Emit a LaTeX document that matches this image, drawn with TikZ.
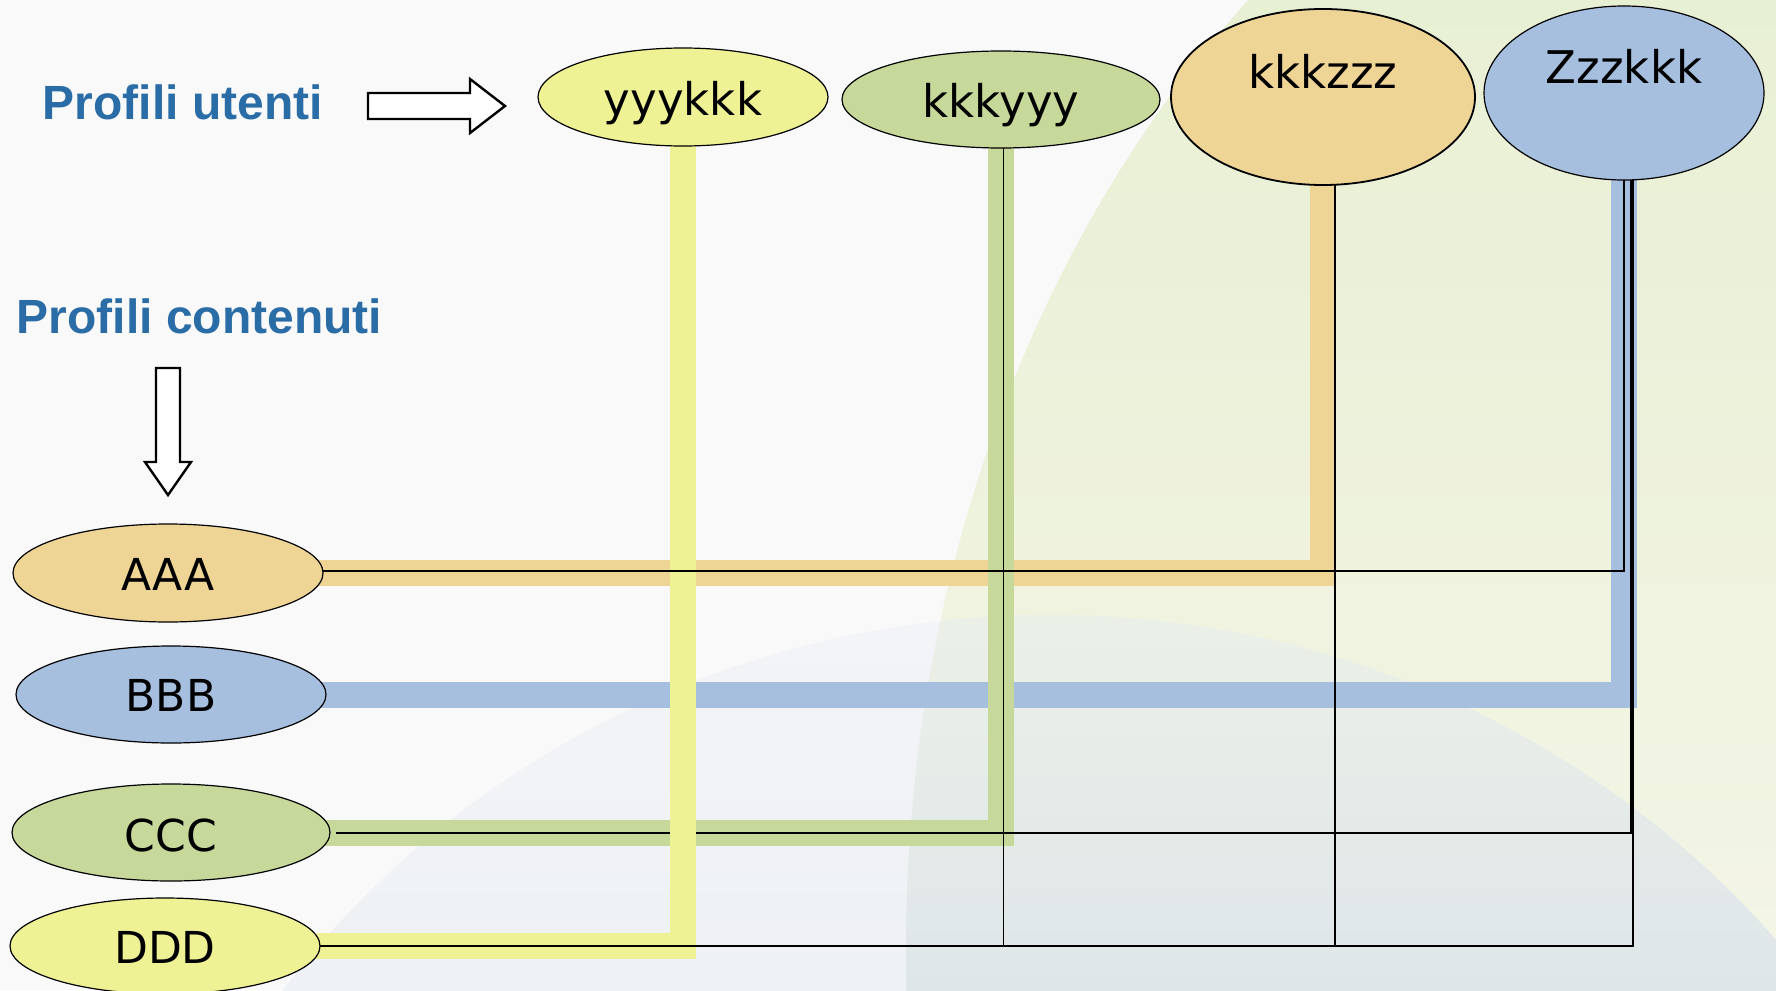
\documentclass[tikz,border=0pt]{standalone}
\usepackage{fontspec}
\setmainfont{DejaVu Sans}
\newfontfamily\titlefont{Liberation Sans}
\usetikzlibrary{shapes.geometric}
\pgfdeclarelayer{deco}
\pgfdeclarelayer{bands}
\pgfsetlayers{deco,bands,main}
\definecolor{cyel}{HTML}{EEF194}
\definecolor{cgrn}{HTML}{C6D99A}
\definecolor{corg}{HTML}{EFD595}
\definecolor{cblu}{HTML}{A6BFDF}
\definecolor{ctitle}{HTML}{2A6CA6}
\definecolor{cbg}{HTML}{F9F9FA}
\definecolor{gtop}{HTML}{E8F0D4}
\definecolor{gbot}{HTML}{F4F5E6}
\definecolor{btop}{HTML}{F3F4F7}
\definecolor{bbot}{HTML}{EEF1F5}
\definecolor{mtop}{HTML}{EBF0E7}
\definecolor{mbot}{HTML}{DFE6E9}
\begin{document}
\begin{tikzpicture}[x=1pt,y=-1pt,
  prof/.style={ellipse, draw=black, line width=1.2pt, inner sep=0pt, outer sep=0pt,
    font=\fontsize{45}{54}\selectfont, text=black},
  profl/.style={prof, font=\fontsize{44}{53}\selectfont},
  band/.style={line width=26pt, line join=miter, line cap=butt},
  link/.style={draw=black, line width=1.7pt, line join=miter},
  title/.style={anchor=base west, inner sep=0pt, text=ctitle,
    font=\titlefont\bfseries\fontsize{48}{58}\selectfont},
  blockarrow/.style={draw=black, line width=2.4pt, fill=white, line join=miter}
]
\useasboundingbox (0,0) rectangle (1776,990);

% background decoration
\begin{pgfonlayer}{deco}
  \fill[cbg] (0,0) rectangle (1776,990);
  \begin{scope}
    \clip (1900,950) ellipse [x radius=994pt, y radius=1258pt];
    \shade[top color=gtop, bottom color=gbot] (0,0) rectangle (1776,990);
  \end{scope}
  \begin{scope}
    \clip (1050,1530) ellipse [x radius=950pt, y radius=915pt];
    \shade[top color=btop, bottom color=bbot] (0,600) rectangle (1776,990);
    \clip (1900,950) ellipse [x radius=994pt, y radius=1258pt];
    \shade[top color=mtop, bottom color=mbot] (0,600) rectangle (1776,990);
  \end{scope}
\end{pgfonlayer}

% titles
\node[title] (t1) at (42.5,119) {Profili utenti};
\node[title] (t2) at (16.5,333) {Profili contenuti};

% block arrows
\draw[blockarrow] (368,93) -- (470,93) -- (470,79) -- (505,106) -- (470,133)
  -- (470,119) -- (368,119) -- cycle;
\draw[blockarrow] (156,368) -- (180,368) -- (180,462) -- (191,462) -- (168,495)
  -- (145,462) -- (156,462) -- cycle;

% user profiles
\node[prof, fill=cyel, minimum width=290pt, minimum height=98pt,
  text height=36pt, text depth=0pt] (u1) at (683,97) {yyykkk};
\node[prof, fill=cgrn, minimum width=318pt, minimum height=97pt,
  text height=35pt, text depth=0pt] (u2) at (1001,99.5) {kkkyyy};
\node[prof, fill=corg, line width=1.8pt, minimum width=304pt, minimum height=176pt,
  text height=0pt, text depth=18pt] (u3) at (1323,97) {kkkzzz};
\node[prof, fill=cblu, minimum width=280pt, minimum height=174pt,
  text height=0pt, text depth=20pt] (u4) at (1624,93) {Zzzkkk};

% content profiles
\node[profl, fill=corg, minimum width=310pt, minimum height=98pt,
  text height=34pt, text depth=0pt] (c1) at (168,573) {AAA};
\node[profl, fill=cblu, minimum width=310pt, minimum height=97pt,
  text height=33pt, text depth=0pt] (c2) at (171,694.5) {BBB};
\node[profl, fill=cgrn, minimum width=318pt, minimum height=97pt,
  text height=37pt, text depth=0pt] (c3) at (171,832.5) {CCC};
\node[profl, fill=cyel, minimum width=310pt, minimum height=96pt,
  text height=34pt, text depth=0pt] (c4) at (165,946) {DDD};

% coloured bands
\begin{pgfonlayer}{bands}
  \draw[band, corg] (u3.center) |- (c1.center);
  \draw[band, cblu] (u4.center) |- (c2.center);
  \draw[band, cgrn] (u2.center) |- (c3.center);
  \draw[link, line width=2pt] ([xshift=7pt]u4.south) |- ([xshift=6pt]c3.east);
  \draw[band, cyel] (u1.center) |- (c4.center);
\end{pgfonlayer}

% black links
\coordinate (k2) at ([xshift=2.5pt]u2.south);
\coordinate (k3) at ([xshift=12pt]u3.south);
\draw[link] (u4.south) |- ([yshift=2pt]c1.east);
\draw[link, line width=2pt] ([xshift=9pt]u4.south) |- (c4.east);
\draw[link] (k2) -- (k2 |- c4.east);
\draw[link] (k3) -- (k3 |- c4.east);
\end{tikzpicture}
\end{document}
